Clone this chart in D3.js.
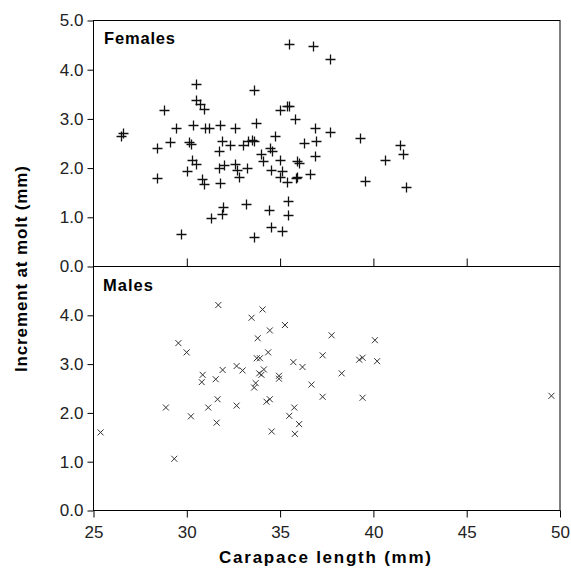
<!DOCTYPE html>
<html>
<head>
<meta charset="utf-8">
<script src="https://cdn.jsdelivr.net/npm/d3@7"></script>
<style>
  body { margin: 0; background: #fff; }
  svg { display: block; font-family: "Liberation Sans", Arial, sans-serif; }
  .axis text { font-size: 17px; fill: #222; }
  .axis line { stroke: #000; }
</style>
</head>
<body>
<svg class="plot" width="571" height="576"></svg>
<script>
// carapace length (mm), increment at molt (mm)
const femaleLength = [26.6, 26.5, 28.4, 28.4, 28.8, 29.1, 29.4, 29.7, 30.1, 30.2, 30.0, 30.3, 30.5, 30.35,
  30.5, 30.5, 30.7, 30.9, 30.8, 30.9, 31.0, 31.2, 31.3, 31.8, 31.7, 31.9, 31.7, 32.0, 31.8, 31.95,
  31.9, 32.3, 32.6, 32.6, 32.7, 32.8, 33.2, 33.0, 33.15, 33.3, 33.6, 33.7, 33.5, 33.6, 33.6, 34.0,
  34.06, 34.4, 34.5, 34.45, 34.55, 34.7, 34.5, 35.0, 35.0, 35.35, 35.5, 35.1, 35.0, 35.35, 35.4,
  35.4, 35.1, 35.5, 35.8, 35.9, 35.9, 35.85, 36.3, 36.6, 36.75, 36.85, 36.85, 36.95, 37.7, 37.7,
  39.3, 39.55, 40.6, 41.4, 41.6, 41.75, 36.0];
const femaleIncrement = [2.72, 2.65, 2.40, 1.79, 3.19, 2.53, 2.82, 0.67, 2.53, 2.50, 1.94, 2.16, 2.09, 2.87,
  3.70, 3.38, 3.31, 3.21, 1.77, 1.67, 2.82, 2.82, 0.98, 2.87, 2.34, 2.56, 2.01, 2.06, 1.70, 1.21,
  1.06, 2.47, 2.82, 2.09, 1.97, 1.82, 2.01, 2.47, 1.28, 2.55, 3.58, 2.91, 2.58, 2.55, 0.60, 2.28,
  2.14, 1.14, 0.81, 2.41, 2.34, 2.65, 1.97, 2.17, 3.19, 3.26, 3.27, 1.94, 1.82, 1.71, 1.34,
  1.04, 0.72, 4.53, 2.99, 2.14, 1.82, 1.79, 2.51, 1.87, 4.48, 2.82, 2.24, 2.55, 4.21, 2.73,
  2.62, 1.73, 2.17, 2.47, 2.28, 1.62, 2.11];

const maleLength = [25.38, 28.88, 29.33, 29.55, 29.99, 30.22, 30.85, 30.8, 31.15, 31.55, 31.69, 31.65,
  31.6, 31.92, 32.67, 32.67, 32.99, 33.47, 33.61, 33.69, 33.8, 33.75, 33.92, 33.88, 34.0, 34.13,
  34.06, 34.45, 34.36, 34.27, 34.45, 34.55, 34.94, 34.94, 35.26, 35.71, 35.76, 35.49, 35.79, 36.02,
  36.2, 36.68, 37.76, 37.28, 37.28, 38.3, 39.24, 39.42, 39.42, 40.08, 40.2, 49.54];
const maleIncrement = [1.60, 2.11, 1.06, 3.43, 3.24, 1.93, 2.78, 2.63, 2.11, 2.69, 4.21, 2.28,
  1.80, 2.88, 2.96, 2.15, 2.87, 3.95, 2.52, 2.61, 3.53, 3.12, 3.12, 2.81, 2.78, 2.89,
  4.12, 3.69, 3.24, 2.23, 2.28, 1.62, 2.76, 2.70, 3.80, 3.04, 2.11, 1.94, 1.57, 1.77,
  2.94, 2.58, 3.59, 3.18, 2.33, 2.81, 3.09, 3.13, 2.31, 3.49, 3.06, 2.35];

const xTicks = [25, 30, 35, 40, 45, 50];
const femaleTicks = [0, 1, 2, 3, 4, 5];
const maleTicks = [0, 1, 2, 3, 4];

const box = {l: 93.5, r: 560, t: 20.5, mid: 266.5, b: 510.5};

const svg = d3.select('.plot');

const xS = d3.scaleLinear().domain([25, 50]).range([box.l, box.r]);
const yTop = d3.scaleLinear().domain([0, 5]).range([box.mid, box.t]);
const yBot = d3.scaleLinear().domain([0, 5]).range([box.b, box.mid]);

// axes
svg.append('g').attr('class', 'axis')
  .attr('transform', `translate(${box.l},0)`)
  .call(d3.axisLeft(yTop).tickValues(femaleTicks).tickSize(6).tickPadding(4).tickFormat(d3.format('.1f')))
  .call(g => g.select('.domain').remove());

svg.append('g').attr('class', 'axis')
  .attr('transform', `translate(${box.l},0)`)
  .call(d3.axisLeft(yBot).tickValues(maleTicks).tickSize(6).tickPadding(4).tickFormat(d3.format('.1f')))
  .call(g => g.select('.domain').remove());

// inner ticks along the divider, pointing up
svg.append('g').attr('class', 'axis')
  .attr('transform', `translate(0,${box.mid})`)
  .call(d3.axisBottom(xS).tickValues([30, 35, 40, 45]).tickSize(-8).tickFormat(''))
  .call(g => g.select('.domain').remove());

svg.append('g').attr('class', 'axis')
  .attr('transform', `translate(0,${box.b})`)
  .call(d3.axisBottom(xS).tickValues(xTicks).tickSize(7).tickPadding(8.5).tickFormat(d3.format('d')))
  .call(g => g.select('.domain').remove());

// frames
svg.append('rect')
  .attr('x', box.l).attr('y', box.t)
  .attr('width', box.r - box.l).attr('height', box.b - box.t)
  .attr('fill', 'none').attr('stroke', '#000');
svg.append('line')
  .attr('x1', box.l).attr('x2', box.r).attr('y1', box.mid).attr('y2', box.mid)
  .attr('stroke', '#000');

// females: plus markers
const females = femaleLength.map((x, i) => [x, femaleIncrement[i]]);
const plus = 5;
svg.append('g').selectAll('path').data(females)
  .join('path')
  .attr('d', d => {
    const cx = Math.round(xS(d[0])) + 0.5, cy = Math.round(yTop(d[1])) + 0.5;
    return `M${cx - plus},${cy}H${cx + plus}M${cx},${cy - plus}V${cy + plus}`;
  })
  .attr('stroke', '#111').attr('stroke-width', 1.3).attr('fill', 'none');

// males: cross markers
const males = maleLength.map((x, i) => [x, maleIncrement[i]]);
const cr = 3;
svg.append('g').selectAll('path').data(males)
  .join('path')
  .attr('d', d => {
    const cx = xS(d[0]), cy = yBot(d[1]);
    return `M${cx - cr},${cy - cr}L${cx + cr},${cy + cr}M${cx - cr},${cy + cr}L${cx + cr},${cy - cr}`;
  })
  .attr('stroke', '#333').attr('stroke-width', 1).attr('fill', 'none');

// labels
svg.append('text').text('Females')
  .attr('x', 104).attr('y', 44)
  .attr('font-size', 16.5).attr('font-weight', 'bold')
  .attr('textLength', 71).attr('lengthAdjust', 'spacing');
svg.append('text').text('Males')
  .attr('x', 103).attr('y', 290.5)
  .attr('font-size', 16.5).attr('font-weight', 'bold')
  .attr('textLength', 50).attr('lengthAdjust', 'spacing');

svg.append('text').text('Carapace length (mm)')
  .attr('x', 219).attr('y', 562.5)
  .attr('font-size', 17).attr('font-weight', 'bold')
  .attr('textLength', 212).attr('lengthAdjust', 'spacing');

svg.append('text').text('Increment at molt (mm)')
  .attr('transform', 'translate(27,372) rotate(-90)')
  .attr('font-size', 17).attr('font-weight', 'bold')
  .attr('textLength', 206).attr('lengthAdjust', 'spacing');
</script>
</body>
</html>
